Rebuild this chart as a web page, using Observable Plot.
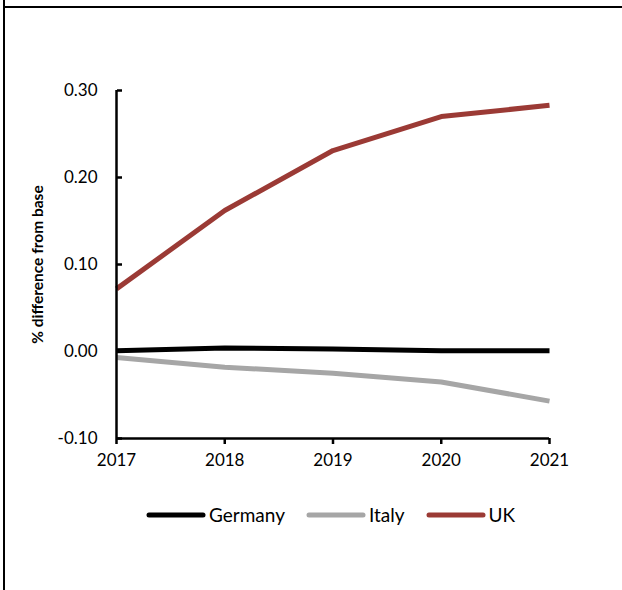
<!DOCTYPE html>
<html>
<head>
<meta charset="utf-8">
<script src="https://cdn.jsdelivr.net/npm/d3@7"></script>
<script src="https://cdn.jsdelivr.net/npm/@observablehq/plot@0.6"></script>
<style>
  body { margin: 0; background: #fff; }
  #wrap { position: relative; width: 622px; height: 590px; overflow: hidden; font-family: Lato, "Open Sans", sans-serif; color: #000; }
  .frame-top { position: absolute; left: 3px; top: 6px; width: 619px; height: 2px; background: #000; }
  .frame-left { position: absolute; left: 3px; top: 0; width: 2px; height: 590px; background: #000; }
  #chart { position: absolute; left: 0; top: 0; }
  #legend { position: absolute; left: 146px; top: 503px; display: flex; align-items: center; font-size: 19px; }
  #legend .item { display: flex; align-items: center; margin-right: 21px; }
  #legend svg { display: block; margin-right: 3px; }
</style>
</head>
<body>
<div id="wrap">
  <div class="frame-top"></div>
  <div class="frame-left"></div>
  <div id="chart"></div>
  <div id="legend"></div>
</div>
<script>
// Years on the x axis
const years = [2017, 2018, 2019, 2020, 2021];

// Percentage difference from base, by country
const germany = [0.001, 0.004, 0.003, 0.001, 0.001];
const italy = [-0.007, -0.018, -0.025, -0.035, -0.057];
const uk = [0.072, 0.162, 0.231, 0.270, 0.283];

const seriesNames = ["Germany", "Italy", "UK"];
const seriesColors = ["#000000", "#a6a6a6", "#9b3a35"];
const yTicks = [-0.1, 0, 0.1, 0.2, 0.3];
const yLabel = "% difference from base";

const seriesValues = [germany, italy, uk];
const rows = seriesNames.flatMap((name, i) =>
  years.map((year, j) => ({ series: name, year, value: seriesValues[i][j] }))
);

const fmt = d => d3.format(".2f")(d).replace("\u2212", "-");

const chart = Plot.plot({
  width: 622,
  height: 490,
  marginLeft: 116,
  marginRight: 73,
  marginTop: 90,
  marginBottom: 52,
  style: { fontFamily: "Lato, 'Open Sans', sans-serif", fontSize: "17px", color: "#000", background: "transparent", overflow: "visible" },
  x: { domain: [years[0], years[years.length - 1]] },
  y: { domain: [yTicks[0], yTicks[yTicks.length - 1]] },
  color: { domain: seriesNames, range: seriesColors },
  marks: [
    Plot.line(rows, { x: "year", y: "value", stroke: "series", strokeWidth: 5, strokeLinecap: "butt" }),
    Plot.ruleX([years[0]], { strokeWidth: 2.5 }),
    Plot.ruleY([yTicks[0]], { strokeWidth: 2.5 }),
    Plot.axisY(yTicks, { anchor: "left", tickSize: 0, tickPadding: 19, tickFormat: fmt, label: null }),
    Plot.axisY(yTicks, { anchor: "right", frameAnchor: "left", tickSize: 5, text: null, strokeWidth: 2.5, label: null }),
    Plot.axisX(years, { anchor: "bottom", tickSize: 6, tickPadding: 9, tickFormat: d => String(d), strokeWidth: 2.5, label: null }),
    Plot.text([yLabel], { frameAnchor: "left", textAnchor: "middle", dx: -78, rotate: -90, fontWeight: "bold", fontSize: 15.5 })
  ]
});
document.getElementById("chart").appendChild(chart);

// Legend: line swatch followed by the series name
const legend = document.getElementById("legend");
seriesNames.forEach((name, i) => {
  const item = document.createElement("div");
  item.className = "item";
  const sw = d3.create("svg").attr("width", 60).attr("height", 10);
  sw.append("line").attr("x1", 3).attr("x2", 57).attr("y1", 5).attr("y2", 5)
    .attr("stroke", seriesColors[i]).attr("stroke-width", 5).attr("stroke-linecap", "round");
  item.appendChild(sw.node());
  const label = document.createElement("span");
  label.textContent = name;
  item.appendChild(label);
  legend.appendChild(item);
});
</script>
</body>
</html>
